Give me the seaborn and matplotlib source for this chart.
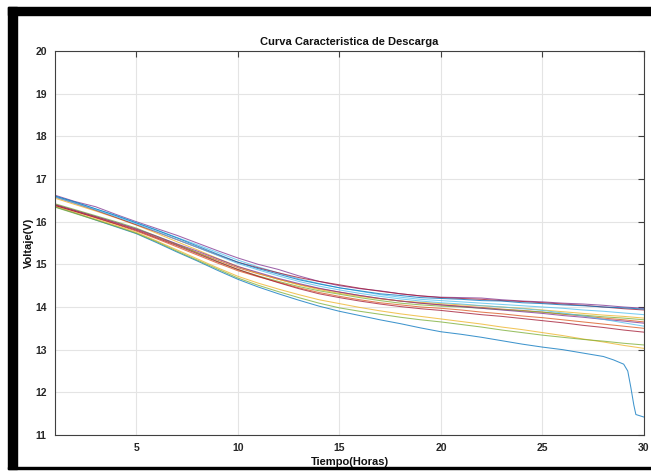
import numpy as np
import pandas as pd
import matplotlib
matplotlib.use("Agg")
import matplotlib.pyplot as plt
import seaborn as sns
from matplotlib.patches import Rectangle

# ---------------- data ----------------
horas = list(range(1, 31))

v_azul_a = [16.60, 16.46, 16.30, 16.14, 15.97, 15.80, 15.62, 15.43, 15.24, 15.05,
            14.90, 14.77, 14.64, 14.54, 14.45, 14.38, 14.31, 14.27, 14.22, 14.20,
            14.18, 14.15, 14.14, 14.10, 14.08, 14.05, 14.03, 14.00, 13.98, 13.95]
v_naranja_a = [16.40, 16.26, 16.12, 15.97, 15.82, 15.64, 15.46, 15.28, 15.10, 14.92,
               14.78, 14.65, 14.53, 14.43, 14.35, 14.27, 14.20, 14.14, 14.09, 14.05,
               14.02, 13.99, 13.95, 13.92, 13.88, 13.83, 13.79, 13.74, 13.70, 13.65]
v_amarillo_a = [16.55, 16.40, 16.25, 16.09, 15.92, 15.73, 15.53, 15.34, 15.14, 14.95,
                14.79, 14.65, 14.52, 14.41, 14.32, 14.25, 14.19, 14.14, 14.11, 14.08,
                14.05, 14.03, 14.00, 13.97, 13.93, 13.89, 13.85, 13.81, 13.78, 13.74]
v_morado_a = [16.62, 16.47, 16.35, 16.17, 16.00, 15.84, 15.68, 15.50, 15.32, 15.15,
              15.00, 14.88, 14.73, 14.60, 14.50, 14.43, 14.38, 14.31, 14.26, 14.23,
              14.22, 14.21, 14.17, 14.14, 14.12, 14.09, 14.07, 14.04, 14.00, 13.97]
v_verde_a = [16.42, 16.28, 16.14, 16.00, 15.85, 15.66, 15.47, 15.27, 15.07, 14.88,
             14.73, 14.60, 14.48, 14.38, 14.30, 14.22, 14.15, 14.09, 14.05, 14.02,
             14.00, 13.97, 13.94, 13.91, 13.88, 13.84, 13.81, 13.77, 13.74, 13.70]
v_celeste_a = [16.60, 16.45, 16.30, 16.15, 15.98, 15.81, 15.63, 15.46, 15.28, 15.10,
               14.94, 14.80, 14.66, 14.55, 14.45, 14.37, 14.29, 14.23, 14.18, 14.15,
               14.12, 14.09, 14.06, 14.03, 14.00, 13.97, 13.93, 13.90, 13.86, 13.82]
v_granate_a = [16.58, 16.43, 16.27, 16.10, 15.93, 15.76, 15.58, 15.40, 15.22, 15.05,
               14.92, 14.80, 14.69, 14.60, 14.52, 14.44, 14.37, 14.31, 14.26, 14.22,
               14.20, 14.18, 14.15, 14.13, 14.10, 14.07, 14.04, 14.00, 13.96, 13.93]
v_naranja_b = [16.38, 16.24, 16.09, 15.94, 15.78, 15.60, 15.41, 15.22, 15.03, 14.85,
               14.71, 14.58, 14.45, 14.34, 14.25, 14.17, 14.10, 14.05, 14.00, 13.97,
               13.93, 13.88, 13.84, 13.79, 13.75, 13.70, 13.65, 13.60, 13.55, 13.50]
v_amarillo_b = [16.36, 16.21, 16.06, 15.91, 15.75, 15.55, 15.34, 15.13, 14.92, 14.72,
                14.56, 14.42, 14.29, 14.17, 14.08, 13.99, 13.91, 13.84, 13.78, 13.72,
                13.66, 13.60, 13.53, 13.47, 13.40, 13.33, 13.25, 13.18, 13.10, 13.03]
v_morado_b = [16.40, 16.26, 16.12, 15.98, 15.83, 15.66, 15.48, 15.31, 15.13, 14.95,
              14.81, 14.67, 14.55, 14.44, 14.35, 14.27, 14.20, 14.14, 14.09, 14.05,
              14.01, 13.97, 13.93, 13.89, 13.85, 13.80, 13.76, 13.71, 13.67, 13.62]
v_verde_b = [16.34, 16.19, 16.04, 15.89, 15.73, 15.53, 15.31, 15.10, 14.89, 14.68,
             14.51, 14.36, 14.22, 14.09, 13.98, 13.90, 13.83, 13.76, 13.70, 13.65,
             13.59, 13.53, 13.46, 13.40, 13.34, 13.29, 13.24, 13.20, 13.15, 13.11]
v_celeste_b = [16.58, 16.43, 16.28, 16.12, 15.95, 15.77, 15.58, 15.40, 15.21, 15.02,
               14.87, 14.73, 14.60, 14.49, 14.40, 14.32, 14.25, 14.19, 14.14, 14.10,
               14.07, 14.03, 14.00, 13.96, 13.92, 13.86, 13.79, 13.71, 13.63, 13.55]
v_granate_b = [16.38, 16.24, 16.10, 15.95, 15.80, 15.62, 15.44, 15.25, 15.06, 14.88,
               14.72, 14.57, 14.43, 14.31, 14.22, 14.14, 14.07, 14.01, 13.96, 13.92,
               13.87, 13.82, 13.78, 13.73, 13.68, 13.63, 13.57, 13.52, 13.46, 13.41]

# battery that collapses at the end (own time axis)
horas_azul_b = [1, 2, 3, 4, 5, 6, 7, 8, 9, 10, 11, 12, 13, 14, 15, 16, 17, 18, 19, 20,
                21, 22, 23, 24, 25, 26, 27, 28, 28.5, 29, 29.2, 29.35, 29.5, 29.6, 30]
v_azul_b = [16.35, 16.20, 16.04, 15.88, 15.72, 15.51, 15.29, 15.08, 14.86, 14.65,
            14.47, 14.31, 14.16, 14.02, 13.90, 13.80, 13.70, 13.61, 13.51, 13.42,
            13.36, 13.29, 13.21, 13.13, 13.06, 13.00, 12.92, 12.84, 12.76, 12.66,
            12.50, 12.12, 11.70, 11.48, 11.42]

titulo = "Curva Caracteristica de Descarga"
etiqueta_x = "Tiempo(Horas)"
etiqueta_y = "Voltaje(V)"
xticks = [5, 10, 15, 20, 25, 30]
yticks = [11, 12, 13, 14, 15, 16, 17, 18, 19, 20]

# MATLAB default colour order, two rounds
series = [
    ("s01", horas_azul_b, v_azul_b, "#0072BD"),
    ("s02", horas, v_naranja_a, "#D95319"),
    ("s03", horas, v_amarillo_a, "#EDB120"),
    ("s04", horas, v_morado_a, "#7E2F8E"),
    ("s05", horas, v_verde_a, "#77AC30"),
    ("s06", horas, v_celeste_a, "#4DBEEE"),
    ("s07", horas, v_granate_a, "#A2142F"),
    ("s08", horas, v_azul_a, "#0072BD"),
    ("s09", horas, v_naranja_b, "#D95319"),
    ("s10", horas, v_amarillo_b, "#EDB120"),
    ("s11", horas, v_morado_b, "#7E2F8E"),
    ("s12", horas, v_verde_b, "#77AC30"),
    ("s13", horas, v_celeste_b, "#4DBEEE"),
    ("s14", horas, v_granate_b, "#A2142F"),
]

rows = []
for name, xs, ys, _ in series:
    for xv, yv in zip(xs, ys):
        rows.append((name, xv, yv))
df = pd.DataFrame(rows, columns=["serie", "hora", "voltaje"])
palette = {name: c for name, _, _, c in series}

# ---------------- plot ----------------
sns.set_style("white")
plt.rcParams["font.family"] = ["Liberation Sans", "DejaVu Sans"]

W, H = 651, 471
fig = plt.figure(figsize=(W / 100, H / 100), dpi=100)
ax = fig.add_axes([55 / W, 1 - 435 / H, (644 - 55) / W, (435 - 51) / H])

sns.lineplot(data=df, x="hora", y="voltaje", hue="serie", palette=palette,
             estimator=None, sort=False, legend=False, linewidth=0.75, alpha=0.75, ax=ax)

ax.set_xlim(1, 30)
ax.set_ylim(11, 20)
ax.set_xticks(xticks)
ax.set_yticks(yticks)
ax.grid(True, color="#e4e4e4", linewidth=0.8)
ax.set_axisbelow(True)
for s in ax.spines.values():
    s.set_color("#404040")
    s.set_linewidth(0.8)
ax.tick_params(direction="in", length=4, width=0.8, color="#404040",
               top=True, right=True, labelsize=7.5, labelcolor="#262626", pad=6)
for lab in ax.get_xticklabels() + ax.get_yticklabels():
    lab.set_fontweight("bold")

ax.set_title(titulo, fontsize=8, fontweight="bold", color="#111111", pad=4)
ax.set_xlabel(etiqueta_x, fontsize=8, fontweight="bold", color="#111111")
ax.set_ylabel(etiqueta_y, fontsize=8, fontweight="bold", color="#111111")
ax.xaxis.set_label_coords(0.5, -(462 - 435) / (435 - 51))
ax.yaxis.set_label_coords(-(55 - 29) / (644 - 55), 0.5)
ax.xaxis.label.set_verticalalignment("center")
ax.yaxis.label.set_verticalalignment("center")

# black frame of the screenshot
fig.patches.append(Rectangle((8 / W, 1 - 15 / H), (W - 8) / W, 8 / H,
                             transform=fig.transFigure, color="black", zorder=10))
fig.patches.append(Rectangle((8 / W, 1 - 469 / H), 9 / W, (469 - 7) / H,
                             transform=fig.transFigure, color="black", zorder=10))
fig.patches.append(Rectangle((8 / W, 1 - 469 / H), (W - 8) / W, 2 / H,
                             transform=fig.transFigure, color="black", zorder=10))

fig.savefig("out.png", dpi=100)
